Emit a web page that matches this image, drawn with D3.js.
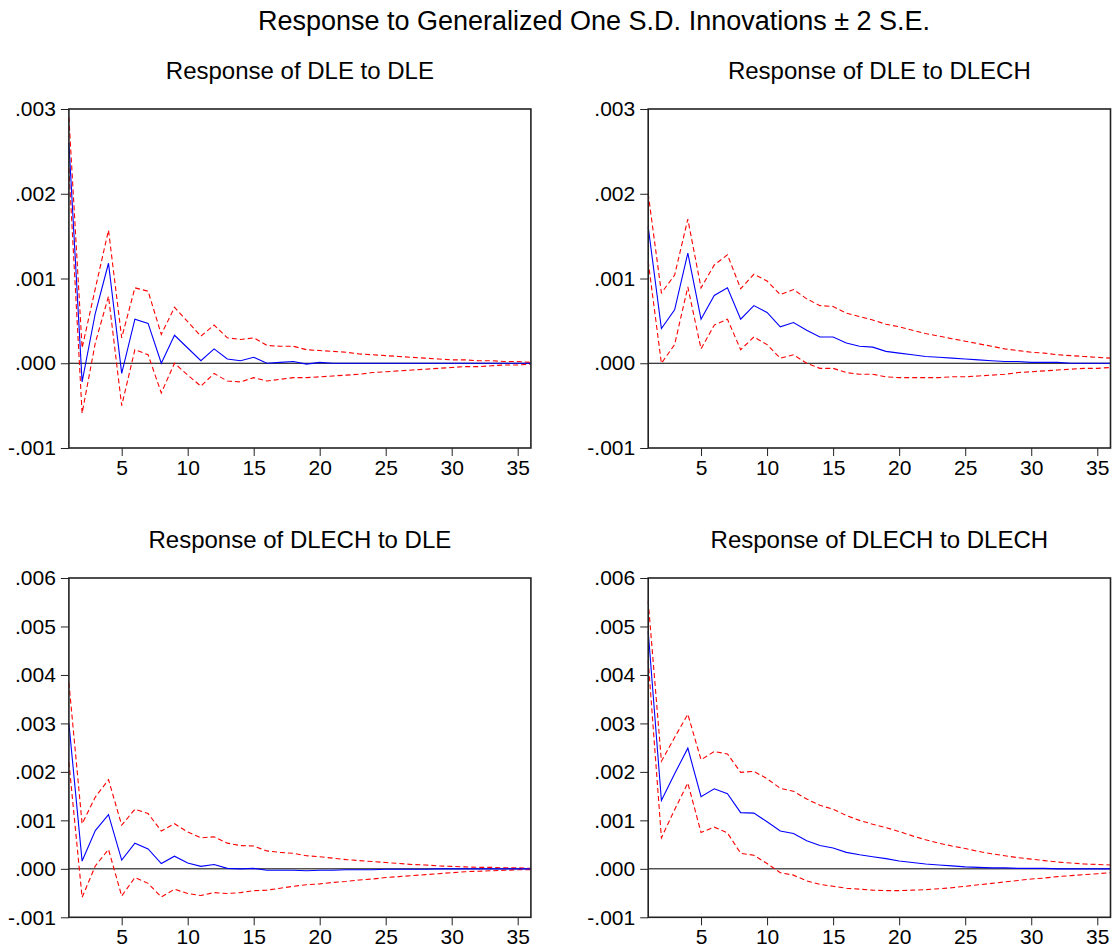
<!DOCTYPE html>
<html>
<head>
<meta charset="utf-8">
<script src="https://cdn.jsdelivr.net/npm/d3@7"></script>
<style>
  body { margin: 0; background: #fff; }
  svg { font-family: "Liberation Sans", Arial, sans-serif; }
</style>
</head>
<body>
<script>
// horizon (periods) shown on every panel
const periods = [1, 2, 3, 4, 5, 6, 7, 8, 9, 10, 11, 12, 13, 14, 15, 16, 17, 18,
                 19, 20, 21, 22, 23, 24, 25, 26, 27, 28, 29, 30, 31, 32, 33, 34, 35, 36];
const xTicks = [5, 10, 15, 20, 25, 30, 35];

// response of DLE to DLE
const dleDleMid = [0.0026, -0.00022, 0.00059, 0.00118, -0.00012, 0.00052, 0.00047, 0.0, 0.00033, 0.00018, 0.00003, 0.00017, 0.00005, 0.00003, 0.00007, 0.0, 0.00001, 0.00002, -0.00001, 0.00001, 0.0, 0.0, 0.0, 0.0, 0.0, 0.0, 0.0, 0.0, 0.0, 0.0, 0.0, 0.0, 0.0, 0.0, 0.0, 0.0];
const dleDleHi = [0.0029, 0.00018, 0.00088, 0.00157, 0.0003, 0.00089, 0.00085, 0.00034, 0.00066, 0.00049, 0.00032, 0.00045, 0.0003, 0.00028, 0.0003, 0.00021, 0.0002, 0.0002, 0.00016, 0.00015, 0.00014, 0.00013, 0.00011, 0.0001, 0.00009, 0.00008, 0.00007, 0.00006, 0.00005, 0.00004, 0.00004, 0.00003, 0.00003, 0.00002, 0.00002, 0.00001];
const dleDleLo = [0.0023, -0.00059, 0.00024, 0.00079, -0.0005, 0.00016, 0.0001, -0.00035, 0.0, -0.00014, -0.00027, -0.00012, -0.00021, -0.00022, -0.00017, -0.00021, -0.00019, -0.00017, -0.00017, -0.00016, -0.00015, -0.00014, -0.00013, -0.00011, -0.0001, -0.00009, -0.00008, -0.00007, -0.00006, -0.00005, -0.00004, -0.00004, -0.00003, -0.00002, -0.00002, -0.00001];

// response of DLE to DLECH
const dleDlechMid = [0.00161, 0.00041, 0.00063, 0.0013, 0.00052, 0.0008, 0.00089, 0.00052, 0.00068, 0.0006, 0.00043, 0.00048, 0.00039, 0.00031, 0.00031, 0.00024, 0.0002, 0.00019, 0.00014, 0.00012, 0.0001, 0.00008, 0.00007, 0.00006, 0.00005, 0.00004, 0.00003, 0.00002, 0.00002, 0.00001, 0.00001, 0.00001, 0.0, 0.0, 0.0, 0.0];
const dleDlechHi = [0.002, 0.00083, 0.00104, 0.0017, 0.00089, 0.00116, 0.00128, 0.00088, 0.00105, 0.00097, 0.00081, 0.00087, 0.00076, 0.00068, 0.00067, 0.00059, 0.00055, 0.00051, 0.00046, 0.00043, 0.00039, 0.00035, 0.00032, 0.00029, 0.00026, 0.00023, 0.0002, 0.00017, 0.00015, 0.00013, 0.00012, 0.0001, 0.00009, 0.00008, 0.00007, 0.00006];
const dleDlechLo = [0.0012, 0.0, 0.00022, 0.0009, 0.00017, 0.00045, 0.00052, 0.00016, 0.00031, 0.00022, 0.00006, 0.0001, 0.0, -0.00006, -0.00006, -0.00011, -0.00013, -0.00013, -0.00016, -0.00017, -0.00017, -0.00017, -0.00017, -0.00016, -0.00016, -0.00015, -0.00014, -0.00013, -0.00011, -0.0001, -0.00009, -0.00008, -0.00007, -0.00006, -0.00006, -0.00005];

// response of DLECH to DLE
const dlechDleMid = [0.003, 0.00016, 0.00079, 0.00112, 0.00018, 0.00053, 0.00041, 0.00011, 0.00026, 0.00012, 0.00005, 0.00009, 0.00001, 0.0, 0.00001, -0.00003, -0.00003, -0.00003, -0.00004, -0.00003, -0.00003, -0.00002, -0.00002, -0.00002, -0.00001, -0.00001, -0.00001, -0.00001, 0.0, 0.0, 0.0, 0.0, 0.0, 0.0, 0.0, 0.0];
const dlechDleHi = [0.00384, 0.00093, 0.00148, 0.00184, 0.0009, 0.00123, 0.00114, 0.00078, 0.00093, 0.00076, 0.00064, 0.00066, 0.00053, 0.00048, 0.00047, 0.00037, 0.00034, 0.00032, 0.00027, 0.00025, 0.00022, 0.00019, 0.00017, 0.00015, 0.00013, 0.00011, 0.00009, 0.00008, 0.00006, 0.00005, 0.00004, 0.00003, 0.00003, 0.00002, 0.00002, 0.00001];
const dlechDleLo = [0.0022, -0.00059, 0.00006, 0.0004, -0.00056, -0.00018, -0.0003, -0.00058, -0.00042, -0.00051, -0.00055, -0.00049, -0.00051, -0.00049, -0.00045, -0.00044, -0.0004, -0.00036, -0.00033, -0.00031, -0.00028, -0.00026, -0.00023, -0.00021, -0.00018, -0.00016, -0.00014, -0.00012, -0.0001, -0.00008, -0.00006, -0.00005, -0.00004, -0.00003, -0.00002, -0.00002];

// response of DLECH to DLECH
const dlechDlechMid = [0.0049, 0.00141, 0.00196, 0.00249, 0.00149, 0.00165, 0.00155, 0.00116, 0.00115, 0.00097, 0.00078, 0.00073, 0.00058, 0.00048, 0.00043, 0.00034, 0.00029, 0.00025, 0.00021, 0.00016, 0.00013, 0.0001, 0.00008, 0.00006, 0.00004, 0.00003, 0.00002, 0.00002, 0.00001, 0.00001, 0.00001, 0.0, 0.0, 0.0, 0.0, 0.0];
const dlechDlechHi = [0.00552, 0.00222, 0.00271, 0.00319, 0.00225, 0.00242, 0.00237, 0.00199, 0.00201, 0.00186, 0.00166, 0.0016, 0.00144, 0.00131, 0.00123, 0.0011, 0.001, 0.00092, 0.00085, 0.00077, 0.00068, 0.0006, 0.00053, 0.00047, 0.00042, 0.00036, 0.00031, 0.00027, 0.00023, 0.0002, 0.00017, 0.00014, 0.00012, 0.0001, 0.00009, 0.00008];
const dlechDlechLo = [0.0043, 0.00064, 0.00122, 0.00177, 0.00075, 0.00086, 0.00074, 0.00032, 0.00028, 0.00011, -0.00008, -0.00013, -0.00025, -0.00032, -0.00036, -0.0004, -0.00042, -0.00044, -0.00045, -0.00045, -0.00044, -0.00043, -0.00041, -0.00039, -0.00036, -0.00033, -0.0003, -0.00027, -0.00024, -0.00021, -0.00019, -0.00016, -0.00014, -0.00012, -0.0001, -0.00008];

const topTicks = [-0.001, 0.0, 0.001, 0.002, 0.003];
const bottomTicks = [-0.001, 0.0, 0.001, 0.002, 0.003, 0.004, 0.005, 0.006];

const width = 1113;
const height = 950;

let svg = d3.select('body')
            .append('svg')
            .attr('width', width)
            .attr('height', height);

svg.append('text')
   .attr('x', 594)
   .attr('y', 30)
   .attr('text-anchor', 'middle')
   .style('font-size', '27px')
   .text('Response to Generalized One S.D. Innovations \u00b1 2 S.E.');

// eviews style labels: .003, -.001
function fmt(v) {
    return d3.format('.3f')(v).replace('\u2212', '-').replace('0.', '.');
}

function drawPanel(p) {
    let x = d3.scaleLinear().domain([1, 36]).range([p.left, p.right]);
    let y = d3.scaleLinear().domain([p.ticks[0], p.ticks[p.ticks.length - 1]]).range([p.bottom, p.top]);

    svg.append('text')
       .attr('x', (p.left + p.right) / 2)
       .attr('y', p.top - 30)
       .attr('text-anchor', 'middle')
       .style('font-size', '24px')
       .text(p.title);

    let yAxis = svg.append('g')
       .attr('transform', `translate(${p.left},0)`)
       .call(d3.axisLeft(y).tickValues(p.ticks).tickFormat(fmt).tickSize(8).tickSizeOuter(0).tickPadding(5));
    let xAxis = svg.append('g')
       .attr('transform', `translate(0,${p.bottom})`)
       .call(d3.axisBottom(x).tickValues(xTicks).tickFormat(d3.format('d')).tickSize(8).tickSizeOuter(0).tickPadding(4));
    [yAxis, xAxis].forEach(g => {
        g.select('.domain').remove();
        g.selectAll('line').attr('stroke', '#222');
        g.selectAll('text').attr('fill', '#000').style('font-size', '21px').style('font-family', '"Liberation Sans", Arial, sans-serif');
    });

    // zero line
    svg.append('line')
       .attr('x1', p.left).attr('x2', p.right)
       .attr('y1', y(0)).attr('y2', y(0))
       .attr('stroke', '#000')
       .attr('stroke-width', 1);

    let line = d3.line()
                 .x((d, i) => x(periods[i]))
                 .y(d => y(d));

    [p.hi, p.lo].forEach(band => {
        svg.append('path')
           .datum(band)
           .attr('d', line)
           .attr('fill', 'none')
           .attr('stroke', '#ff0000')
           .attr('stroke-width', 1.1)
           .attr('stroke-dasharray', '5,3');
    });

    svg.append('path')
       .datum(p.mid)
       .attr('d', line)
       .attr('fill', 'none')
       .attr('stroke', '#0000ff')
       .attr('stroke-width', 1.1);

    svg.append('rect')
       .attr('x', p.left).attr('y', p.top)
       .attr('width', p.right - p.left).attr('height', p.bottom - p.top)
       .attr('fill', 'none')
       .attr('stroke', '#222')
       .attr('stroke-width', 1.6);
}

const leftL = 68.9, leftR = 530.9, rightL = 648.2, rightR = 1110.5;

drawPanel({title: 'Response of DLE to DLE', left: leftL, right: leftR, top: 109, bottom: 448,
           ticks: topTicks, mid: dleDleMid, hi: dleDleHi, lo: dleDleLo});
drawPanel({title: 'Response of DLE to DLECH', left: rightL, right: rightR, top: 109, bottom: 448,
           ticks: topTicks, mid: dleDlechMid, hi: dleDlechHi, lo: dleDlechLo});
drawPanel({title: 'Response of DLECH to DLE', left: leftL, right: leftR, top: 578, bottom: 917.3,
           ticks: bottomTicks, mid: dlechDleMid, hi: dlechDleHi, lo: dlechDleLo});
drawPanel({title: 'Response of DLECH to DLECH', left: rightL, right: rightR, top: 578, bottom: 917.3,
           ticks: bottomTicks, mid: dlechDlechMid, hi: dlechDlechHi, lo: dlechDlechLo});
</script>
</body>
</html>
